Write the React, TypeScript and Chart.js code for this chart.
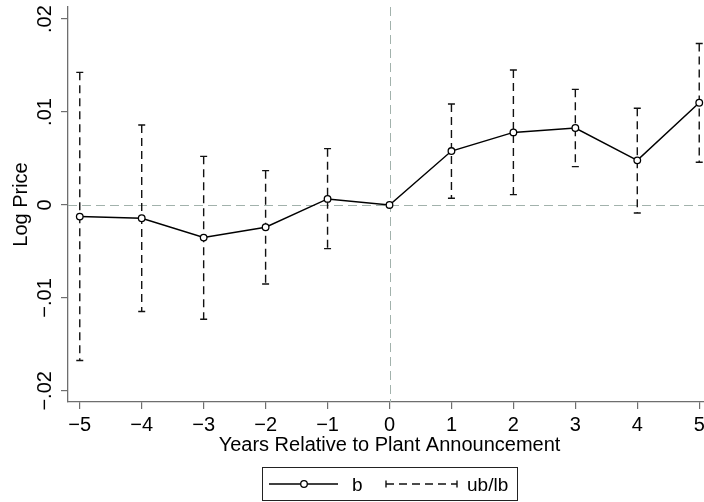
import React, { useEffect, useRef } from "react";
import { Chart, registerables } from "chart.js";

Chart.register(...registerables);

// ---- data ----
const years = [-5, -4, -3, -2, -1, 0, 1, 2, 3, 4, 5];
const bValues = [-0.00125, -0.00143, -0.00351, -0.0024, 0.00065, 0, 0.0058, 0.00781, 0.00828, 0.0048, 0.011];
const ubValues: (number | null)[] = [0.01427, 0.0086, 0.00523, 0.00369, 0.00606, null, 0.01086, 0.01452, 0.01244, 0.0104, 0.01738];
const lbValues: (number | null)[] = [-0.01674, -0.01147, -0.01229, -0.0085, -0.0047, null, 0.00072, 0.00111, 0.00412, -0.00086, 0.00459];

const xTickValues = [-5, -4, -3, -2, -1, 0, 1, 2, 3, 4, 5];
const xTickLabels = ["\u22125", "\u22124", "\u22123", "\u22122", "\u22121", "0", "1", "2", "3", "4", "5"];
const yTickValues = [-0.02, -0.01, 0, 0.01, 0.02];
const yTickLabels = ["\u2212.02", "\u2212.01", "0", ".01", ".02"];

const refX = 0;
const refY = 0;

const xTitle = "Years Relative to Plant Announcement";
const yTitle = "Log Price";
const legendLabels = ["b", "ub/lb"];

// ---- style ----
const FONT = "'Liberation Sans', Arial, Helvetica, sans-serif";
const AXIS_COLOR = "#6e6e6e";
const REF_COLOR = "#a2b2ac";

const overlayPlugin = {
  id: "overlay",
  beforeDatasetsDraw(chart: any) {
    const { ctx, chartArea } = chart;
    const xs = chart.scales.x;
    const ys = chart.scales.y;
    ctx.save();
    ctx.beginPath();
    ctx.rect(chartArea.left, chartArea.top, chartArea.right - chartArea.left, chartArea.bottom - chartArea.top);
    ctx.clip();
    // reference lines
    ctx.strokeStyle = REF_COLOR;
    ctx.lineWidth = 1;
    ctx.setLineDash([9, 5]);
    const x0 = Math.round(xs.getPixelForValue(refX)) + 0.5;
    const y0 = Math.round(ys.getPixelForValue(refY)) + 0.5;
    ctx.beginPath();
    ctx.moveTo(chartArea.left, y0);
    ctx.lineTo(chartArea.right, y0);
    ctx.stroke();
    ctx.beginPath();
    ctx.moveTo(x0, chartArea.top);
    ctx.lineTo(x0, chartArea.bottom);
    ctx.stroke();
    // error bars
    ctx.strokeStyle = "#111";
    ctx.lineWidth = 1.4;
    years.forEach((yr, i) => {
      const ub = ubValues[i];
      const lb = lbValues[i];
      if (ub == null || lb == null) return;
      const px = xs.getPixelForValue(yr);
      const pu = ys.getPixelForValue(ub);
      const pl = ys.getPixelForValue(lb);
      ctx.setLineDash([8, 5]);
      ctx.beginPath();
      ctx.moveTo(px, pu);
      ctx.lineTo(px, pl);
      ctx.stroke();
      ctx.setLineDash([]);
      ctx.beginPath();
      ctx.moveTo(px - 3.5, pu);
      ctx.lineTo(px + 3.5, pu);
      ctx.moveTo(px - 3.5, pl);
      ctx.lineTo(px + 3.5, pl);
      ctx.stroke();
    });
    ctx.restore();
  },
  afterDraw(chart: any) {
    const { ctx, chartArea } = chart;
    const ys = chart.scales.y;
    ctx.save();
    // rotated y tick labels
    ctx.fillStyle = "#000";
    ctx.font = `20px ${FONT}`;
    ctx.textAlign = "center";
    ctx.textBaseline = "alphabetic";
    yTickValues.forEach((v, i) => {
      const py = ys.getPixelForValue(v);
      ctx.save();
      ctx.translate(chartArea.left - 17, py);
      ctx.rotate(-Math.PI / 2);
      ctx.fillText(yTickLabels[i], 0, 0);
      ctx.restore();
    });
    // legend
    const cx = (chartArea.left + chartArea.right) / 2;
    const top = 467.5;
    const h = 33;
    const w = 255;
    const ly = 484;
    ctx.fillStyle = "#fff";
    ctx.fillRect(cx - w / 2, top, w, h);
    ctx.strokeStyle = "#222";
    ctx.lineWidth = 1;
    ctx.strokeRect(Math.round(cx - w / 2) + 0.5, top, w, h);
    // b entry
    ctx.strokeStyle = "#000";
    ctx.lineWidth = 1.5;
    ctx.beginPath();
    ctx.moveTo(cx - 120.5, ly);
    ctx.lineTo(cx - 51.5, ly);
    ctx.stroke();
    ctx.beginPath();
    ctx.arc(cx - 85.5, ly, 3.3, 0, Math.PI * 2);
    ctx.fillStyle = "#fff";
    ctx.fill();
    ctx.lineWidth = 1.3;
    ctx.stroke();
    ctx.fillStyle = "#000";
    ctx.font = `19px ${FONT}`;
    ctx.textAlign = "left";
    ctx.textBaseline = "alphabetic";
    ctx.fillText(legendLabels[0], cx - 37.5, 490.5);
    // ub/lb entry
    ctx.lineWidth = 1.4;
    ctx.strokeStyle = "#111";
    ctx.setLineDash([8, 5]);
    ctx.beginPath();
    ctx.moveTo(cx - 3.5, ly);
    ctx.lineTo(cx + 67.5, ly);
    ctx.stroke();
    ctx.setLineDash([]);
    ctx.beginPath();
    ctx.moveTo(cx - 3.5, ly - 3.5);
    ctx.lineTo(cx - 3.5, ly + 3.5);
    ctx.moveTo(cx + 67.5, ly - 3.5);
    ctx.lineTo(cx + 67.5, ly + 3.5);
    ctx.stroke();
    ctx.fillText(legendLabels[1], cx + 77.5, 490.5);
    ctx.restore();
  },
};

export default function App() {
  const canvasRef = useRef<HTMLCanvasElement | null>(null);

  useEffect(() => {
    const canvas = canvasRef.current;
    if (!canvas) return;
    Chart.defaults.font.family = FONT;
    const chart = new Chart(canvas, {
      type: "line",
      data: {
        datasets: [
          {
            label: legendLabels[0],
            data: years.map((x, i) => ({ x, y: bValues[i] })),
            borderColor: "#000",
            borderWidth: 1.5,
            pointRadius: 3.3,
            pointBorderWidth: 1.3,
            pointBackgroundColor: "#fff",
            pointBorderColor: "#000",
            tension: 0,
            fill: false,
          },
        ],
      },
      options: {
        animation: false,
        responsive: false,
        maintainAspectRatio: false,
        events: [],
        layout: { autoPadding: false, padding: { left: 0, right: 0, top: 7, bottom: 20 } },
        plugins: {
          legend: { display: false },
          tooltip: { enabled: false },
        },
        scales: {
          x: {
            type: "linear",
            min: -5.19,
            max: 5.19,
            afterBuildTicks: (scale: any) => {
              scale.ticks = xTickValues.map((v) => ({ value: v }));
            },
            ticks: {
              color: "#000",
              font: { size: 20, lineHeight: 1 },
              padding: 6,
              maxRotation: 0,
              minRotation: 0,
              autoSkip: false,
              callback: (v: any) => {
                const i = xTickValues.indexOf(Number(v));
                return i >= 0 ? xTickLabels[i] : "";
              },
            },
            grid: {
              display: true,
              drawOnChartArea: false,
              drawTicks: true,
              tickLength: 7,
              color: AXIS_COLOR,
              lineWidth: 1.2,
            },
            border: { display: true, color: AXIS_COLOR, width: 1.3 },
            title: {
              display: true,
              text: xTitle,
              color: "#000",
              font: { size: 20, lineHeight: 1 },
              padding: { top: -6, bottom: 27 },
            },
          },
          y: {
            type: "linear",
            min: -0.0212,
            max: 0.0213,
            afterBuildTicks: (scale: any) => {
              scale.ticks = yTickValues.map((v) => ({ value: v }));
            },
            ticks: { display: false },
            grid: {
              display: true,
              drawOnChartArea: false,
              drawTicks: true,
              tickLength: 7,
              color: AXIS_COLOR,
              lineWidth: 1.2,
            },
            border: { display: true, color: AXIS_COLOR, width: 1.3 },
            title: {
              display: true,
              text: yTitle,
              color: "#000",
              font: { size: 20, lineHeight: 1 },
              padding: { top: 11, bottom: 30 },
            },
          },
        },
      },
      plugins: [overlayPlugin],
    });
    return () => chart.destroy();
  }, []);

  return (
    <div style={{ position: "fixed", left: 0, top: 0, width: 704, height: 502, overflow: "hidden", background: "#fff" }}>
      <div style={{ position: "absolute", left: 0, top: 0, width: 711, height: 502 }}>
        <canvas ref={canvasRef} width={711} height={502} style={{ display: "block", width: 711, height: 502 }} />
      </div>
    </div>
  );
}
